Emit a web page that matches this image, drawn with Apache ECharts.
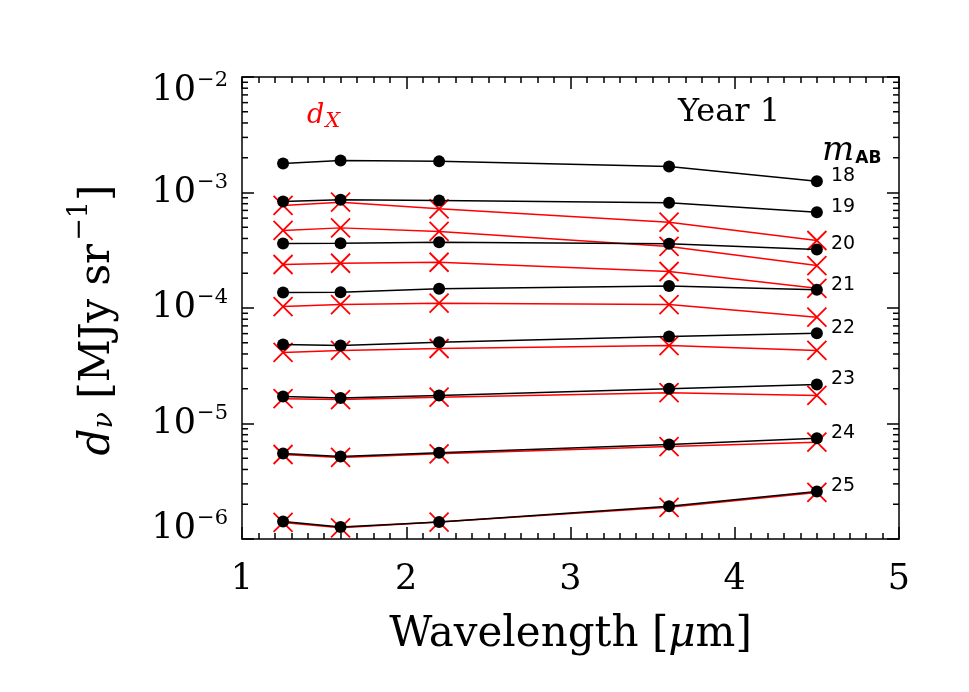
<!DOCTYPE html>
<html>
<head>
<meta charset="utf-8">
<script src="https://cdn.jsdelivr.net/npm/echarts@6/dist/echarts.min.js"></script>
<style>
html, body { margin: 0; background: #fff; }
#chart { width: 969px; height: 692px; }
</style>
</head>
<body>
<div id="chart"></div>
<script>
// wavelengths of the bands [micron]
var wavelength = [1.25, 1.6, 2.2, 3.6, 4.5];
// AB magnitude of each curve
var magLabels = ['18', '19', '20', '21', '22', '23', '24', '25'];
// d_nu (black, filled dots) per magnitude
var dTotal = [
    [1.78e-3, 1.89e-3, 1.86e-3, 1.68e-3, 1.25e-3],
    [8.36e-4, 8.65e-4, 8.53e-4, 8.15e-4, 6.75e-4],
    [3.62e-4, 3.64e-4, 3.71e-4, 3.60e-4, 3.21e-4],
    [1.36e-4, 1.37e-4, 1.47e-4, 1.55e-4, 1.44e-4],
    [4.83e-5, 4.73e-5, 5.06e-5, 5.66e-5, 6.05e-5],
    [1.71e-5, 1.66e-5, 1.75e-5, 2.00e-5, 2.18e-5],
    [5.50e-6, 5.18e-6, 5.57e-6, 6.57e-6, 7.46e-6],
    [1.42e-6, 1.27e-6, 1.40e-6, 1.92e-6, 2.58e-6]
];
// d_X (red crosses) per magnitude
var dX = [
    [7.72e-4, 8.24e-4, 7.23e-4, 5.53e-4, 3.84e-4],
    [4.69e-4, 4.94e-4, 4.60e-4, 3.41e-4, 2.33e-4],
    [2.38e-4, 2.44e-4, 2.49e-4, 2.07e-4, 1.48e-4],
    [1.03e-4, 1.07e-4, 1.10e-4, 1.07e-4, 8.32e-5],
    [4.12e-5, 4.29e-5, 4.46e-5, 4.73e-5, 4.29e-5],
    [1.64e-5, 1.61e-5, 1.69e-5, 1.85e-5, 1.75e-5],
    [5.39e-6, 5.08e-6, 5.47e-6, 6.32e-6, 6.89e-6],
    [1.39e-6, 1.25e-6, 1.40e-6, 1.88e-6, 2.53e-6]
];
var xTicks = [1, 2, 3, 4, 5];
var yTickExp = [-6, -5, -4, -3, -2];

var serif = 'DejaVu Serif';
var sans = 'DejaVu Sans';

function pairs(row) {
    return wavelength.map(function (w, i) { return [w, row[i]]; });
}

var series = [];
// red first, black on top
dX.forEach(function (row, k) {
    series.push({
        name: 'dX ' + magLabels[k],
        type: 'line',
        data: pairs(row),
        symbol: 'path://M0,0L20,20M20,0L0,20',
        symbolSize: 19,
        itemStyle: { color: '#ff0000', borderColor: '#ff0000', borderWidth: 1.8 },
        lineStyle: { color: '#ff0000', width: 1.5 },
        z: 2
    });
});
dTotal.forEach(function (row, k) {
    series.push({
        name: magLabels[k],
        type: 'line',
        data: pairs(row),
        symbol: 'circle',
        symbolSize: 12,
        itemStyle: { color: '#000' },
        lineStyle: { color: '#000', width: 1.5 },
        endLabel: {
            show: true,
            formatter: '{a}',
            distance: 14,
            offset: [0, -5],
            fontFamily: sans,
            fontSize: 19,
            color: '#000'
        },
        z: 3
    });
});

var axisLine = { show: true, lineStyle: { color: '#000', width: 1.5 } };
var tick = { show: true, inside: true, length: 12, lineStyle: { color: '#000', width: 1.5 } };
var minor = { show: true, splitNumber: 10, length: 6, lineStyle: { color: '#000', width: 1.5 } };

var chart = echarts.init(document.getElementById('chart'));
chart.setOption({
    animation: false,
    backgroundColor: '#fff',
    grid: { left: 242, right: 70, top: 77, height: 462 },
    xAxis: [{
        type: 'value',
        min: xTicks[0],
        max: xTicks[xTicks.length - 1],
        interval: 1,
        position: 'bottom',
        axisLine: axisLine,
        axisTick: tick,
        minorTick: minor,
        splitLine: { show: false },
        axisLabel: { fontFamily: serif, fontSize: 35, color: '#000', margin: 23 },
        name: '{n|Wavelength [}{i|μ}{n|m]}',
        nameLocation: 'middle',
        nameGap: 75,
        nameTextStyle: {
            rich: {
                n: { fontFamily: serif, fontSize: 42, color: '#000' },
                i: { fontFamily: serif, fontStyle: 'italic', fontSize: 42, color: '#000' }
            }
        }
    }, {
        type: 'value',
        min: xTicks[0],
        max: xTicks[xTicks.length - 1],
        interval: 1,
        position: 'top',
        axisLine: axisLine,
        axisTick: tick,
        minorTick: minor,
        splitLine: { show: false },
        axisLabel: { show: false }
    }],
    yAxis: [{
        type: 'log',
        logBase: 10,
        min: Math.pow(10, yTickExp[0]),
        max: Math.pow(10, yTickExp[yTickExp.length - 1]),
        position: 'left',
        axisLine: axisLine,
        axisTick: tick,
        splitLine: { show: false },
        axisLabel: {
            margin: 14,
            formatter: function (v) {
                var e = Math.round(Math.log(v) / Math.LN10);
                // end labels are pulled inside the axis range
                var k = e === yTickExp[0] ? 'lo' : (e === yTickExp[yTickExp.length - 1] ? 'hi' : 'md');
                return '{b' + k + '|10}{s' + k + '|−' + Math.abs(e) + '}';
            },
            rich: {
                bmd: { fontFamily: serif, fontSize: 35, color: '#000' },
                smd: { fontFamily: serif, fontSize: 21, color: '#000', padding: [0, 0, 20, 1] },
                blo: { fontFamily: serif, fontSize: 35, color: '#000', padding: [0, 0, 20, 0] },
                slo: { fontFamily: serif, fontSize: 21, color: '#000', padding: [0, 0, 40, 1] },
                bhi: { fontFamily: serif, fontSize: 35, color: '#000', padding: [28, 0, 0, 0] },
                shi: { fontFamily: serif, fontSize: 21, color: '#000', padding: [8, 0, 0, 1] }
            }
        },
        name: '{i|d}{sub|ν}{n| [MJy sr}{sup|−1}{n|]}',
        nameLocation: 'middle',
        nameRotate: 90,
        nameGap: 111,
        nameTextStyle: {
            padding: [0, 24, 0, 0],
            rich: {
                i: { fontFamily: serif, fontStyle: 'italic', fontSize: 42, color: '#000' },
                sub: { fontFamily: serif, fontStyle: 'italic', fontSize: 27, color: '#000', padding: [13, 0, 0, 0] },
                n: { fontFamily: serif, fontSize: 42, color: '#000' },
                sup: { fontFamily: serif, fontSize: 27, color: '#000', padding: [0, 0, 38, 3] }
            }
        }
    }, {
        type: 'log',
        logBase: 10,
        min: Math.pow(10, yTickExp[0]),
        max: Math.pow(10, yTickExp[yTickExp.length - 1]),
        position: 'right',
        axisLine: axisLine,
        axisTick: tick,
        splitLine: { show: false },
        axisLabel: { show: false }
    }],
    series: series
});

// log minor ticks (2..9 per decade) on both y sides, placed through the axis scale
var xl = chart.convertToPixel({ xAxisIndex: 0 }, xTicks[0]);
var xr = chart.convertToPixel({ xAxisIndex: 0 }, xTicks[xTicks.length - 1]);
var graphics = [];
for (var e = yTickExp[0]; e < yTickExp[yTickExp.length - 1]; e++) {
    for (var m = 2; m <= 9; m++) {
        var y = chart.convertToPixel({ yAxisIndex: 0 }, m * Math.pow(10, e));
        graphics.push({ type: 'line', shape: { x1: xl, y1: y, x2: xl + 6, y2: y }, style: { stroke: '#000', lineWidth: 1.5 }, silent: true });
        graphics.push({ type: 'line', shape: { x1: xr - 6, y1: y, x2: xr, y2: y }, style: { stroke: '#000', lineWidth: 1.5 }, silent: true });
    }
}
// annotations
graphics.push({
    type: 'text', x: 307, y: 116,
    style: {
        text: '{d|d}{x|X}', verticalAlign: 'middle',
        rich: {
            d: { fontFamily: serif, fontStyle: 'italic', fontSize: 27, fill: '#ff0000' },
            x: { fontFamily: serif, fontStyle: 'italic', fontSize: 21, fill: '#ff0000', padding: [12, 0, 0, 1] }
        }
    }
});
graphics.push({
    type: 'text', x: 678, y: 113,
    style: { text: 'Year 1', fontFamily: serif, fontSize: 32, fill: '#000', verticalAlign: 'middle' }
});
graphics.push({
    type: 'text', x: 822, y: 151,
    style: {
        text: '{m|m}{ab|AB}', verticalAlign: 'middle',
        rich: {
            m: { fontFamily: serif, fontStyle: 'italic', fontSize: 34, fill: '#000' },
            ab: { fontFamily: sans, fontWeight: 'bold', fontSize: 17, fill: '#000', padding: [16, 0, 0, 1] }
        }
    }
});
chart.setOption({ graphic: graphics });
</script>
</body>
</html>
